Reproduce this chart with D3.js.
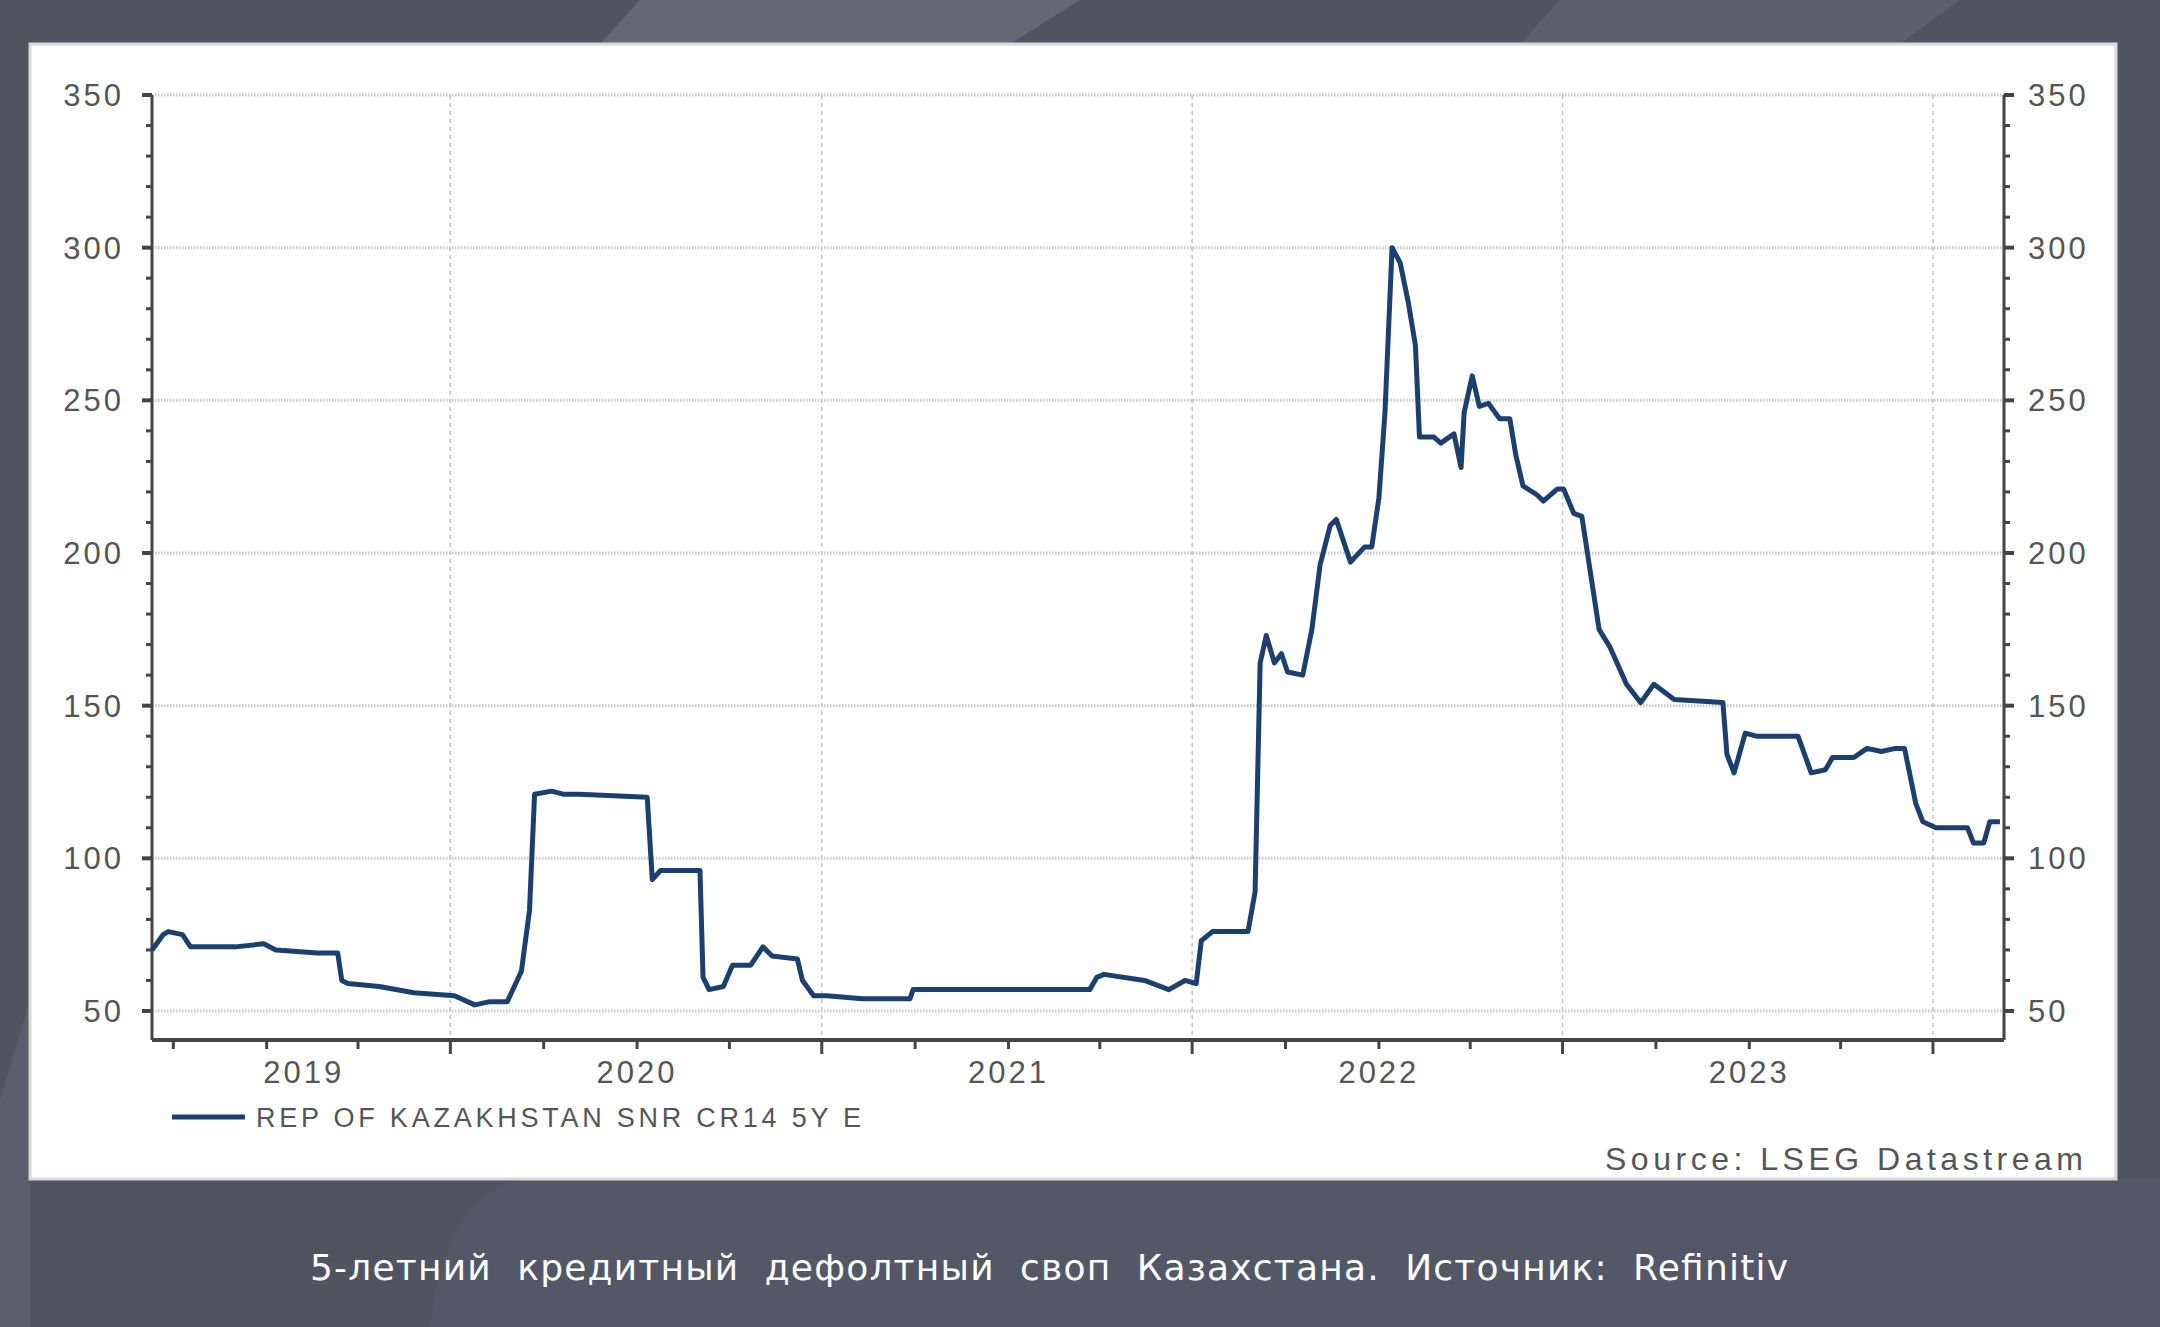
<!DOCTYPE html>
<html><head><meta charset="utf-8">
<script src="https://cdn.jsdelivr.net/npm/d3@7"></script>
<style>
body{margin:0;background:#50545f;overflow:hidden}
svg{display:block}
</style></head><body>
<svg width="2160" height="1327"></svg>
<script>
var width = 2160, height = 1327;

// 5Y CDS, Kazakhstan
var dates = ["2018-09-10","2018-09-21","2018-09-26","2018-10-10","2018-10-18","2018-12-01","2018-12-29","2019-01-10","2019-02-20","2019-03-12","2019-03-16","2019-03-22","2019-04-22","2019-05-26","2019-07-05","2019-07-25","2019-08-08","2019-08-26","2019-09-09","2019-09-17","2019-09-22","2019-10-09","2019-10-20","2019-11-05","2020-01-11","2020-01-16","2020-01-24","2020-03-03","2020-03-06","2020-03-12","2020-03-26","2020-04-04","2020-04-22","2020-05-04","2020-05-13","2020-06-07","2020-06-12","2020-06-23","2020-07-06","2020-08-10","2020-09-26","2020-09-29","2020-11-20","2021-02-10","2021-03-22","2021-03-29","2021-04-05","2021-05-15","2021-06-08","2021-06-24","2021-07-05","2021-07-10","2021-07-21","2021-08-25","2021-09-01","2021-09-06","2021-09-12","2021-09-20","2021-09-27","2021-10-03","2021-10-18","2021-10-27","2021-11-04","2021-11-14","2021-11-20","2021-12-04","2021-12-18","2021-12-25","2022-01-01","2022-01-07","2022-01-14","2022-01-22","2022-01-30","2022-02-06","2022-02-10","2022-02-24","2022-03-03","2022-03-16","2022-03-23","2022-03-26","2022-04-03","2022-04-10","2022-04-19","2022-04-30","2022-05-10","2022-05-16","2022-05-23","2022-06-06","2022-06-12","2022-06-26","2022-07-02","2022-07-12","2022-07-20","2022-08-06","2022-08-17","2022-09-02","2022-09-16","2022-09-29","2022-10-19","2022-12-06","2022-12-10","2022-12-17","2022-12-28","2023-01-08","2023-02-18","2023-03-03","2023-03-17","2023-03-24","2023-04-14","2023-04-27","2023-05-11","2023-05-25","2023-06-03","2023-06-14","2023-06-21","2023-07-04","2023-08-04","2023-08-10","2023-08-20","2023-08-26","2023-09-05"];
var values = [70,75,76,75,71,71,72,70,69,69,60,59,58,56,55,52,53,53,63,83,121,122,121,121,120,93,96,96,61,57,58,65,65,71,68,67,60,55,55,54,54,57,57,57,57,61,62,60,57,60,59,73,76,76,89,164,173,164,167,161,160,175,196,209,211,197,202,202,218,246,300,295,282,268,238,238,236,239,228,246,258,248,249,244,244,232,222,219,217,221,221,213,212,175,169,157,151,157,152,151,134,128,141,140,140,128,129,133,133,136,135,136,136,118,112,110,110,105,105,112,112];
var yTicks = [50, 100, 150, 200, 250, 300, 350];
var yearLabels = ["2019", "2020", "2021", "2022", "2023"];
var seriesName = "REP OF KAZAKHSTAN SNR CR14 5Y E";
var sourceText = "Source: LSEG Datastream";
var caption = "5-летний  кредитный  дефолтный  своп  Казахстана.  Источник:  Refinitiv";

var parse = d3.timeParse("%Y-%m-%d");
var data = dates.map((d, i) => ({ date: parse(d), v: values[i] }));

var svg = d3.select("svg");

// background shapes
svg.append("rect").attr("width", width).attr("height", height).attr("fill", "#50545f");
svg.append("polygon").attr("points", "640,0 1080,0 1010,44 600,44").attr("fill", "#646874");
svg.append("polygon").attr("points", "1560,0 1960,0 1900,44 1520,44").attr("fill", "#5c606c");
svg.append("polygon").attr("points", "0,1100 30,1000 30,1327 0,1327").attr("fill", "#5a5e6a");
svg.append("path").attr("d", "M430,1327 C440,1240 470,1190 520,1179 L2160,1179 L2160,1327 Z").attr("fill", "#545866");

// white panel
svg.append("rect").attr("x", 30).attr("y", 44).attr("width", 2086).attr("height", 1135)
  .attr("fill", "#fff").attr("stroke", "#d8d8d8").attr("stroke-width", 3);

var L = 152, R = 2004, T = 95, B = 1040;
var x = d3.scaleTime().domain([parse("2018-09-10"), parse("2023-09-09")]).range([L, R]);
var y = d3.scaleLinear().domain([40.5, 350]).range([B, T]);

// grid
svg.append("g").selectAll("line").data(yTicks).enter().append("line")
  .attr("x1", L).attr("x2", R).attr("y1", (d) => y(d)).attr("y2", (d) => y(d))
  .attr("stroke", "#c8c8c8").attr("stroke-width", 3).attr("stroke-dasharray", "1.5,1.5");
var julys = [2019, 2020, 2021, 2022, 2023].map((yr) => new Date(yr, 6, 1));
svg.append("g").selectAll("line").data(julys).enter().append("line")
  .attr("x1", (d) => x(d)).attr("x2", (d) => x(d)).attr("y1", T).attr("y2", B)
  .attr("stroke", "#c4c4c4").attr("stroke-width", 1.5).attr("stroke-dasharray", "4,4");

// axes
var axisColor = "#444";
var ax = svg.append("g").attr("stroke", axisColor).attr("fill", "none");
ax.append("line").attr("x1", L).attr("x2", L).attr("y1", T).attr("y2", B).attr("stroke-width", 3);
ax.append("line").attr("x1", R).attr("x2", R).attr("y1", T).attr("y2", B).attr("stroke-width", 3);
ax.append("line").attr("x1", L).attr("x2", R).attr("y1", B).attr("y2", B).attr("stroke-width", 4);
var minor = d3.range(50, 351, 10);
minor.forEach(function (v) {
  var big = v % 50 === 0;
  ax.append("line").attr("x1", L - (big ? 10 : 6)).attr("x2", L).attr("y1", y(v)).attr("y2", y(v)).attr("stroke-width", big ? 4 : 3);
  ax.append("line").attr("x1", R).attr("x2", R + (big ? 10 : 6)).attr("y1", y(v)).attr("y2", y(v)).attr("stroke-width", big ? 4 : 3);
});
d3.timeMonth.every(3).range(x.domain()[0], x.domain()[1]).forEach(function (d) {
  var big = d.getMonth() === 6;
  ax.append("line").attr("x1", x(d)).attr("x2", x(d)).attr("y1", B).attr("y2", B + (big ? 14 : 9)).attr("stroke-width", 3);
});

var tf = "Liberation Sans, Arial, sans-serif";
svg.append("g").selectAll("text").data(yTicks).enter().append("text")
  .attr("x", L - 28).attr("y", (d) => y(d) + 11).attr("text-anchor", "end")
  .attr("font-family", tf).attr("font-size", 31).attr("letter-spacing", 3).attr("fill", "#555").text((d) => d);
svg.append("g").selectAll("text").data(yTicks).enter().append("text")
  .attr("x", R + 24).attr("y", (d) => y(d) + 11)
  .attr("font-family", tf).attr("font-size", 31).attr("letter-spacing", 3).attr("fill", "#555").text((d) => d);
svg.append("g").selectAll("text").data(yearLabels).enter().append("text")
  .attr("x", (d, i) => i === 0 ? x(new Date(2019, 0, 1)) + 37 : x(new Date(+d, 0, 1)))
  .attr("y", B + 43).attr("text-anchor", "middle")
  .attr("font-family", tf).attr("font-size", 31).attr("letter-spacing", 3).attr("fill", "#555").text((d) => d);

// series
var line = d3.line().x((d) => x(d.date)).y((d) => y(d.v));
svg.append("path").datum(data).attr("d", line).attr("fill", "none")
  .attr("stroke", "#1b3f6e").attr("stroke-width", 5).attr("stroke-linejoin", "round");

// legend, source, caption
svg.append("line").attr("x1", 172).attr("x2", 245).attr("y1", 1117).attr("y2", 1117)
  .attr("stroke", "#1b3f6e").attr("stroke-width", 5);
svg.append("text").attr("x", 256).attr("y", 1127).attr("font-family", tf).attr("font-size", 27)
  .attr("textLength", 605).attr("fill", "#555").text(seriesName);
svg.append("text").attr("x", 1605).attr("y", 1170).attr("font-family", tf)
  .attr("font-size", 32).attr("textLength", 478).attr("fill", "#555").text(sourceText);
svg.append("text").attr("x", 310).attr("y", 1280).attr("font-family", "DejaVu Sans, sans-serif")
  .attr("font-size", 36).attr("textLength", 1478).attr("fill", "#fff").attr("xml:space", "preserve").style("white-space", "pre").text(caption);
</script>
</body></html>
